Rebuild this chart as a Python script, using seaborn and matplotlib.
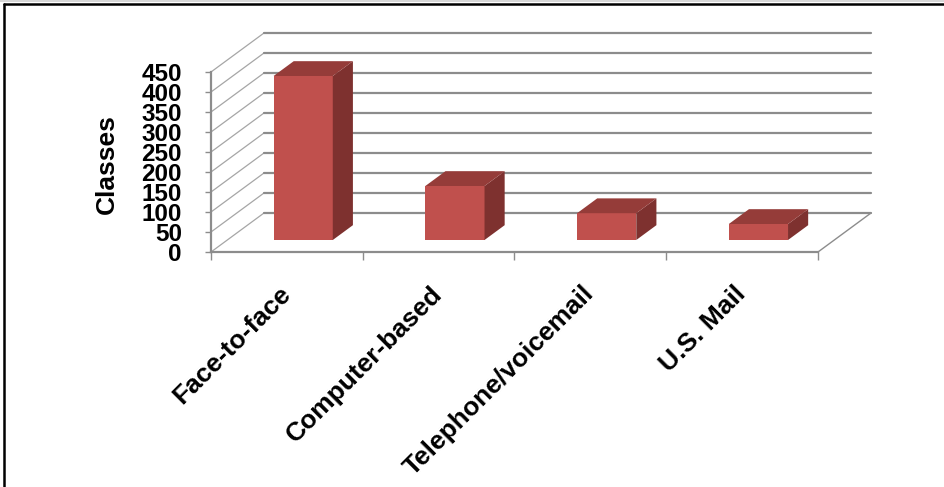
import matplotlib
matplotlib.use("Agg")
import matplotlib.pyplot as plt
from matplotlib.patches import Polygon
from matplotlib.lines import Line2D
import seaborn as sns
import pandas as pd

# Data
categories = ["Face-to-face", "Computer-based", "Telephone/voicemail", "U.S. Mail"]
classes = [410, 135, 67, 40]
y_ticks = [0, 50, 100, 150, 200, 250, 300, 350, 400, 450]

# Colours
FRONT = "#C0504D"
SIDE = "#7E312F"
TOP = "#953C39"
GRID = "#8C8C8C"
WALL = "#A6A6A6"

sns.set_theme(style="white")
plt.rcParams["font.family"] = ["Liberation Sans", "DejaVu Sans"]
plt.rcParams["font.weight"] = "bold"
plt.rcParams["text.color"] = "black"

W, H = 945, 487
fig = plt.figure(figsize=(W / 100, H / 100), dpi=100)
fig.patch.set_facecolor("white")

# Plot area (front plane from x=211..818 px, y=252..72 px)
x0_px, x1_px, ybot_px, ytop_px = 211, 871, 252, 30
ax = fig.add_axes([x0_px / W, (H - ybot_px) / H, (x1_px - x0_px) / W, (ybot_px - ytop_px) / H])
ax.set_facecolor("none")

cat_px = (818 - 211) / 4.0          # pixels per category
unit_px = 180.0 / 450.0              # pixels per value unit
DX = 53 / cat_px                     # oblique depth offset (x, category units)
DY = 39 / unit_px                    # oblique depth offset (y, value units)
xmax = -0.5 + (x1_px - x0_px) / cat_px
ymax = (ybot_px - ytop_px) / unit_px

df = pd.DataFrame({"category": categories, "classes": classes})
sns.barplot(data=df, x="category", y="classes", color=FRONT, saturation=1,
            width=0.39, errorbar=None, ax=ax, zorder=5, linewidth=0)

# Walls and gridlines
for v in y_ticks:
    ax.add_line(Line2D([-0.5, -0.5 + DX], [v, v + DY], color=WALL, lw=0.9, zorder=1, clip_on=False))
    ax.add_line(Line2D([-0.5 + DX, 3.5 + DX], [v + DY, v + DY], color=GRID, lw=1.6, zorder=1, clip_on=False))
ax.add_line(Line2D([3.5, 3.5 + DX], [0, DY], color=GRID, lw=1.0, zorder=1, clip_on=False))

# Turn the flat bars into boxes
f0 = 12 / 39.0      # depth of the front face
bd = 0.38           # box depth as a fraction of the floor depth
for p in ax.patches[:len(categories)]:
    x, w, h = p.get_x(), p.get_width(), p.get_height()
    x = x + f0 * DX
    y0 = f0 * DY
    p.set_x(x)
    p.set_y(y0)
    p.set_edgecolor("none")
    ddx, ddy = bd * DX, bd * DY
    side = Polygon([(x + w, y0), (x + w + ddx, y0 + ddy), (x + w + ddx, y0 + h + ddy), (x + w, y0 + h)],
                   closed=True, facecolor=SIDE, edgecolor="none", zorder=5)
    top = Polygon([(x, y0 + h), (x + ddx, y0 + h + ddy), (x + w + ddx, y0 + h + ddy), (x + w, y0 + h)],
                  closed=True, facecolor=TOP, edgecolor="none", zorder=5)
    ax.add_patch(side)
    ax.add_patch(top)

ax.set_xlim(-0.5, xmax)
ax.set_ylim(0, ymax)

for s in ["top", "right"]:
    ax.spines[s].set_visible(False)
ax.spines["left"].set_bounds(0, 450)
ax.spines["bottom"].set_bounds(-0.5, 3.5)
for s in ["left", "bottom"]:
    ax.spines[s].set_color(GRID)
    ax.spines[s].set_linewidth(1.6)
    ax.spines[s].set_zorder(2)

ax.set_yticks(y_ticks)
ax.set_yticklabels([str(t) for t in y_ticks], fontsize=17.5, fontweight="bold")
ax.tick_params(axis="y", length=4, width=1, color=GRID, pad=17, left=True, labelcolor="black")
ax.set_xticks([-0.5, 0.5, 1.5, 2.5, 3.5])
ax.set_xticklabels([""] * 5)
ax.tick_params(axis="x", length=6, width=1, color=GRID, bottom=True)
ax.set_xlabel("")
ax.set_ylabel("")

for i, c in enumerate(categories):
    ax.annotate(c, xy=(i, 0), xycoords="data", textcoords="offset pixels", xytext=(0, -38),
                ha="right", va="center", rotation=45, rotation_mode="anchor",
                fontsize=19, fontweight="bold", color="black", annotation_clip=False)

fig.text(107 / W, 1 - 164 / H, "Classes", rotation=90, ha="center", va="center",
         fontsize=19, fontweight="bold", color="black")

# Outer frame
fig.add_artist(Line2D([0, 1], [1 - 1 / H, 1 - 1 / H], transform=fig.transFigure, color="#D0D0D0", lw=1.2))
fig.add_artist(Line2D([4 / W, 1], [1 - 4 / H, 1 - 4 / H], transform=fig.transFigure, color="black", lw=1.8))
fig.add_artist(Line2D([4 / W, 4 / W], [0, 1 - 4 / H], transform=fig.transFigure, color="black", lw=1.8))

fig.savefig("out.png", dpi=100)
